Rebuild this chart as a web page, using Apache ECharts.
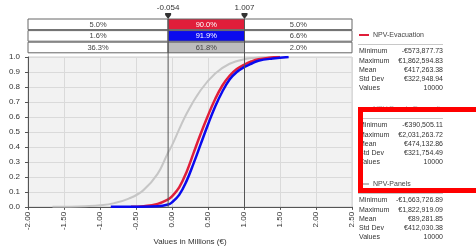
<!DOCTYPE html>
<html>
<head>
<meta charset="utf-8">
<title>NPV cumulative overlay</title>
<script src="https://cdn.jsdelivr.net/npm/echarts@6/dist/echarts.min.js"></script>
<style>
  html, body { margin: 0; padding: 0; background: #fff; }
  #main { width: 476px; height: 251px; }
</style>
</head>
<body>
<div id="main"></div>
<script>
// curves (x in millions of €, cumulative probability)
var evacX = [-0.57, -0.4, -0.2, -0.054, 0.0, 0.1, 0.2, 0.3, 0.4, 0.5, 0.6, 0.7, 0.8, 0.9, 1.007, 1.1, 1.2, 1.35, 1.5];
var evacP = [0.0, 0.004, 0.02, 0.05, 0.07, 0.13, 0.23, 0.36, 0.49, 0.61, 0.72, 0.81, 0.875, 0.92, 0.95, 0.97, 0.985, 0.995, 1.0];
var evPanX = [-0.85, -0.5, -0.2, -0.054, 0.0, 0.1, 0.2, 0.3, 0.4, 0.5, 0.6, 0.7, 0.8, 0.9, 1.007, 1.1, 1.2, 1.4, 1.62];
var evPanP = [0.0, 0.001, 0.004, 0.016, 0.03, 0.08, 0.17, 0.29, 0.42, 0.55, 0.67, 0.77, 0.85, 0.9, 0.934, 0.955, 0.975, 0.99, 1.0];
var panelX = [-1.66, -1.4, -1.2, -1.0, -0.8, -0.6, -0.4, -0.2, -0.054, 0.0, 0.2, 0.4, 0.6, 0.8, 1.0, 1.2, 1.5];
var panelP = [0.0, 0.001, 0.004, 0.01, 0.025, 0.055, 0.11, 0.22, 0.363, 0.41, 0.62, 0.78, 0.89, 0.955, 0.985, 0.996, 1.0];

// delimiters and the percentages in the bar above the plot
var cutLow = -0.054, cutHigh = 1.007;
var rowPct = [
  ['5.0%', '90.0%', '5.0%'],
  ['1.6%', '91.9%', '6.6%'],
  ['36.3%', '61.8%', '2.0%']
];
var rowColor = ['#e01e3a', '#0a0aee', '#bdbdbd'];
var rowText = ['#fff', '#fff', '#444'];

// stats panel
var statNames = ['Minimum', 'Maximum', 'Mean', 'Std Dev', 'Values'];
var evacStats = ['-€573,877.73', '€1,862,594.83', '€417,263.38', '€322,948.94', '10000'];
var evPanStats = ['-€390,505.11', '€2,031,263.72', '€474,132.86', '€321,754.49', '10000'];
var panelStats = ['-€1,663,726.89', '€1,822,919.09', '€89,281.85', '€412,030.38', '10000'];

function zip(xs, ps) { return xs.map(function (x, i) { return [x, ps[i]]; }); }

var font = '"Liberation Sans", "DejaVu Sans", sans-serif';
var myChart = echarts.init(document.getElementById('main'));

// right-hand panel
var graphic = [];
function block(title, titleColor, lineColor, top, stats) {
  graphic.push({ type: 'line', shape: { x1: 359, y1: top, x2: 369, y2: top }, style: { stroke: lineColor, lineWidth: 2 } });
  graphic.push({ type: 'text', x: 373, y: top, style: { text: title, font: '7px ' + font, fill: titleColor, verticalAlign: 'middle' } });
  graphic.push({ type: 'line', shape: { x1: 358, y1: top + 9.5, x2: 443, y2: top + 9.5 }, style: { stroke: '#c8c8c8', lineWidth: 1 } });
  for (var i = 0; i < statNames.length; i++) {
    var y = top + 16.5 + i * 9.2;
    graphic.push({ type: 'text', x: 359, y: y, style: { text: statNames[i], font: '7px ' + font, fill: '#333', verticalAlign: 'middle' } });
    graphic.push({ type: 'text', x: 443, y: y, style: { text: stats[i], font: '7px ' + font, fill: '#333', align: 'right', verticalAlign: 'middle' } });
  }
}
block('NPV-Evacuation', '#444', '#e01e3a', 35, evacStats);
block('NPV-Panels-Evacuation', '#b0b0b0', '#dddddd', 109, evPanStats);
block('NPV-Panels', '#444', '#bbbbbb', 184, panelStats);
// red highlight box
graphic.push({ type: 'rect', z: 100, shape: { x: 360.5, y: 109.5, width: 140, height: 81 }, style: { fill: 'none', stroke: '#ff0000', lineWidth: 5 } });

var option = {
  animation: false,
  backgroundColor: '#fff',
  textStyle: { fontFamily: font },
  grid: { left: 28, right: 124, top: 57, bottom: 35, show: true, backgroundColor: '#f2f2f2', borderColor: '#d0d0d0', borderWidth: 1 },
  xAxis: {
    type: 'value', min: -2, max: 2.5, interval: 0.5,
    name: 'Values in Millions (€)', nameLocation: 'middle', nameGap: 29,
    nameTextStyle: { fontSize: 8, color: '#333' },
    axisLine: { onZero: false, lineStyle: { color: '#555' } },
    axisTick: { show: true, length: 3, lineStyle: { color: '#555' } },
    axisLabel: { rotate: 90, fontSize: 8, color: '#333', margin: 5, formatter: function (v) { return v.toFixed(2); } },
    splitLine: { show: true, lineStyle: { color: '#dadada' } }
  },
  yAxis: {
    type: 'value', min: 0, max: 1, interval: 0.1,
    axisLine: { show: true, onZero: false, lineStyle: { color: '#555' } },
    axisTick: { show: true, length: 3, lineStyle: { color: '#555' } },
    axisLabel: { fontSize: 8, color: '#333', margin: 8, formatter: function (v) { return v.toFixed(1); } },
    splitLine: { show: true, lineStyle: { color: '#dadada' } }
  },
  graphic: graphic,
  series: [
    { name: 'NPV-Panels', type: 'line', data: zip(panelX, panelP), smooth: 0.4, showSymbol: false,
      lineStyle: { color: '#c6c6c6', width: 2 }, z: 2 },
    { name: 'NPV-Evacuation', type: 'line', data: zip(evacX, evacP), smooth: 0.4, showSymbol: false,
      lineStyle: { color: '#e01e3a', width: 2.5 }, z: 3 },
    { name: 'NPV-Panels-Evacuation', type: 'line', data: zip(evPanX, evPanP), smooth: 0.4, showSymbol: false,
      lineStyle: { color: '#0a0aee', width: 2.5 }, z: 4 },
    {
      // percentage bar above the plot
      type: 'custom', clip: false, z: 5,
      data: rowPct.map(function (r, i) { return [i]; }),
      renderItem: function (params, api) {
        var i = api.value(0);
        var xs = [api.coord([-2, 0])[0], api.coord([cutLow, 0])[0], api.coord([cutHigh, 0])[0], api.coord([2.5, 0])[0]];
        var top = params.coordSys.y - 38 + i * 11.6;
        var h = 10.6;
        var kids = [];
        for (var c = 0; c < 3; c++) {
          kids.push({ type: 'rect', shape: { x: xs[c], y: top, width: xs[c + 1] - xs[c], height: h },
            style: { fill: c === 1 ? rowColor[i] : '#fff', stroke: '#666', lineWidth: 1 } });
          kids.push({ type: 'text', style: { x: (xs[c] + xs[c + 1]) / 2, y: top + h / 2 + 0.5, text: rowPct[i][c],
            font: '7.5px ' + font, fill: c === 1 ? rowText[i] : '#444', align: 'center', verticalAlign: 'middle' } });
        }
        return { type: 'group', children: kids };
      }
    },
    {
      // delimiter lines with markers
      type: 'custom', clip: false, z: 6,
      data: [[cutLow], [cutHigh]],
      encode: { x: 0 },
      renderItem: function (params, api) {
        var v = api.value(0);
        var x = api.coord([v, 0])[0];
        var yb = params.coordSys.y + params.coordSys.height;
        var yt = params.coordSys.y - 38;
        return { type: 'group', children: [
          { type: 'line', shape: { x1: x, y1: yt, x2: x, y2: yb }, style: { stroke: '#555', lineWidth: 1 } },
          { type: 'polygon', shape: { points: [[x - 3, yt - 4], [x + 3, yt - 4], [x, yt]] }, style: { fill: '#333' } },
          { type: 'rect', shape: { x: x - 3, y: yt - 6, width: 6, height: 2 }, style: { fill: '#333' } },
          { type: 'text', style: { x: x, y: yt - 11, text: v.toFixed(3), font: '8px ' + font, fill: '#333', align: 'center', verticalAlign: 'middle' } }
        ] };
      }
    }
  ]
};
myChart.setOption(option);
</script>
</body>
</html>
